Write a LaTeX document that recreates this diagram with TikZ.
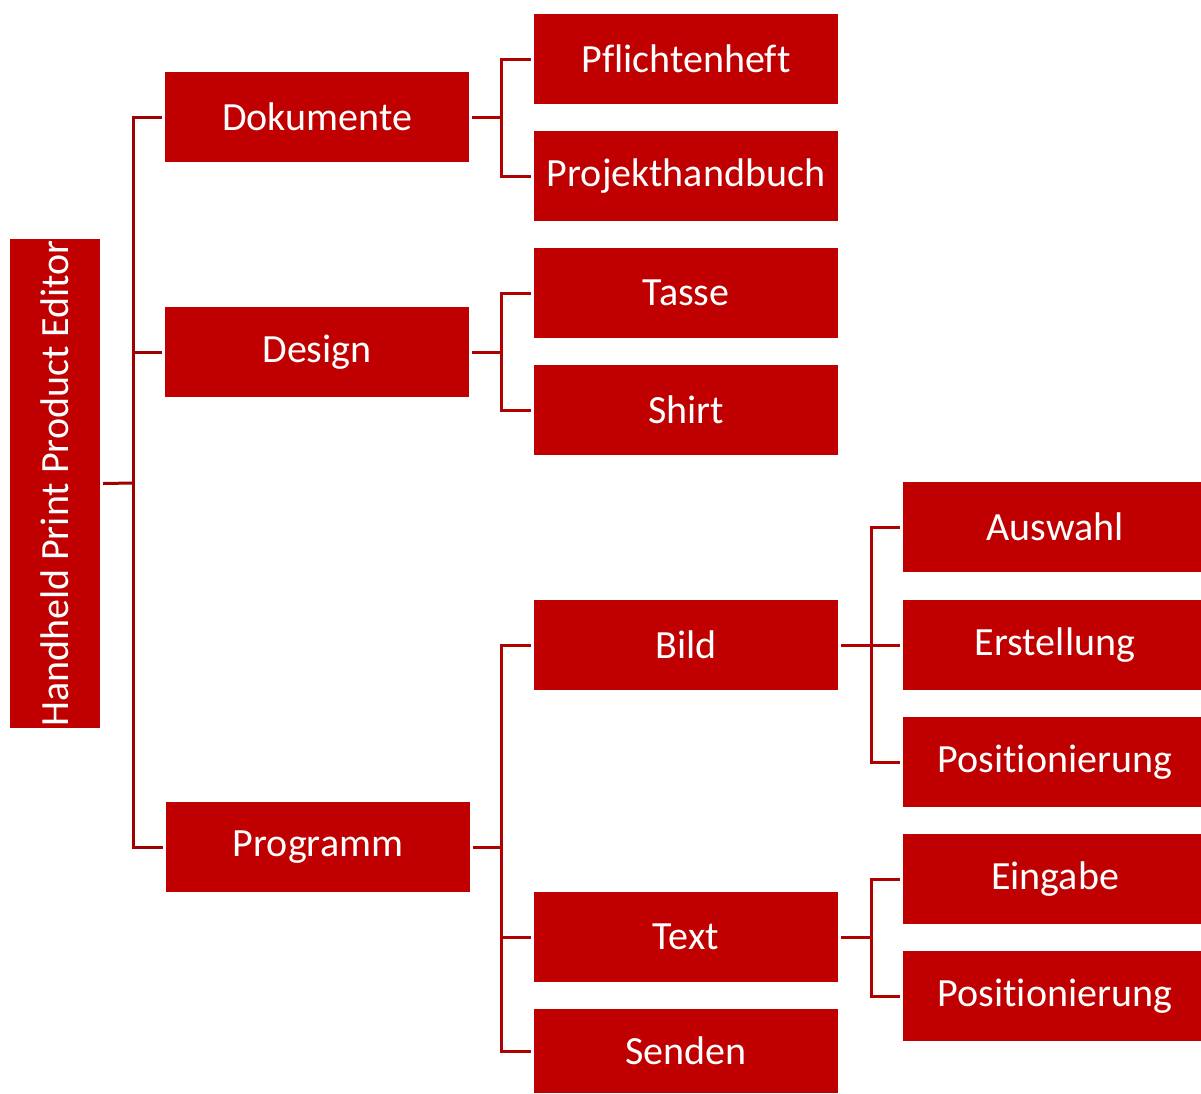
\documentclass[tikz,border=0pt]{standalone}
\usepackage{fontspec}
\setmainfont{Carlito}[Ligatures={NoCommon}]
\definecolor{boxred}{HTML}{C00000}
\definecolor{linered}{HTML}{B00000}
\definecolor{rootline}{HTML}{A00000}
\begin{document}
\begin{tikzpicture}[x=1pt,y=-1pt,
  box/.style={fill=boxred,draw=none,text=white,inner sep=0pt,
    font=\fontsize{40}{44}\selectfont},
  conn/.style={draw=linered,line width=3pt},
  rconn/.style={draw=rootline,line width=3pt}]
\useasboundingbox (0,0) rectangle (1201,1093);
\newcommand{\bx}[6]{\node[box,minimum width=#4-#2,minimum height=#5-#3] (#1) at ({(#2+#4)/2},{(#3+#5)/2}) {#6};}
\node[box,minimum width=90,minimum height=489] (root) at (55,483.5) {};
\node[text=white,font=\fontsize{40}{44}\selectfont,rotate=90,inner sep=0pt] (roottxt) at (root.center) {Handheld Print Product Editor};
\bx{dok}{165}{72}{469}{162}{Dokumente}
\bx{des}{165}{307}{469}{397}{Design}
\bx{prog}{166}{802}{470}{892}{Programm}
\bx{pfl}{534}{14}{838}{104}{Pflichtenheft}
\bx{proj}{534}{131}{838}{221}{Projekthandbuch}
\bx{tas}{534}{248}{838}{338}{Tasse}
\bx{shi}{534}{365}{838}{455}{Shirt}
\bx{bild}{534}{600}{838}{690}{Bild}
\bx{text}{534}{892}{838}{982}{Text}
\bx{send}{534}{1009}{838}{1093}{Senden}
\bx{ausw}{903}{482}{1207}{572}{Auswahl}
\bx{erst}{903}{600}{1207}{690}{Erstellung}
\bx{pos1}{903}{717}{1207}{807}{Positionierung}
\bx{ein}{903}{834}{1207}{924}{Eingabe}
\bx{pos2}{903}{951}{1207}{1041}{Positionierung}
% root connectors
\draw[rconn] ([xshift=3pt]root.east) -- (133,483);
\draw[rconn] ([xshift=-3pt]dok.west) -| (133,483) |- ([xshift=-3pt]prog.west);
\draw[rconn] (133,352) -- ([xshift=-3pt]des.west);
% Dokumente
\draw[conn] ([xshift=3pt]dok.east) -- (501,117);
\draw[conn] ([xshift=-3pt]pfl.west) -| (501,117) |- ([xshift=-3pt]proj.west);
% Design
\draw[conn] ([xshift=3pt]des.east) -- (501,352);
\draw[conn] ([xshift=-3pt]tas.west) -| (501,352) |- ([xshift=-3pt]shi.west);
% Programm
\draw[conn] ([xshift=3pt]prog.east) -- (501,847);
\draw[conn] ([xshift=-3pt]bild.west) -| (501,847) |- ([xshift=-3pt]send.west);
\draw[conn] (501,937) -- ([xshift=-3pt]text.west);
% Bild
\draw[conn] ([xshift=3pt]bild.east) -- ([xshift=-3pt]erst.west);
\draw[conn] ([xshift=-3pt]ausw.west) -| (871,644) |- ([xshift=-3pt]pos1.west);
% Text
\draw[conn] ([xshift=3pt]text.east) -- (871,937);
\draw[conn] ([xshift=-3pt]ein.west) -| (871,937) |- ([xshift=-3pt]pos2.west);
\end{tikzpicture}
\end{document}
